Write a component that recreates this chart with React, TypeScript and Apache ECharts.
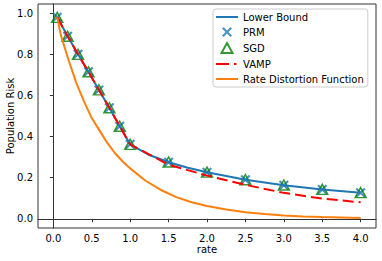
import React, { useEffect, useRef } from "react";
import * as echarts from "echarts";

const markerRates = [0.05, 0.186, 0.321, 0.457, 0.593, 0.729, 0.864, 1.0, 1.5, 2.0, 2.5, 3.0, 3.5, 4.0];
const prmValues = [0.98, 0.888, 0.8, 0.715, 0.627, 0.54, 0.45, 0.362, 0.275, 0.226, 0.19, 0.163, 0.142, 0.126];
const sgdValues = [0.98, 0.888, 0.8, 0.715, 0.627, 0.54, 0.45, 0.362, 0.276, 0.227, 0.19, 0.164, 0.143, 0.127];
const vampValues = [0.98, 0.888, 0.8, 0.715, 0.627, 0.54, 0.45, 0.362, 0.263, 0.21, 0.165, 0.126, 0.098, 0.08];

const lbRates = [0.05, 0.186, 0.321, 0.457, 0.593, 0.729, 0.864, 1.0, 1.25, 1.5, 1.75, 2.0, 2.5, 3.0, 3.5, 4.0];
const lbValues = [0.98, 0.888, 0.8, 0.715, 0.627, 0.54, 0.45, 0.362, 0.31, 0.275, 0.248, 0.226, 0.19, 0.163, 0.142, 0.126];

const rdRates = [0.05, 0.1, 0.2, 0.3, 0.4, 0.5, 0.6, 0.7, 0.8, 0.9, 1.0, 1.2, 1.4, 1.6, 1.8, 2.0, 2.25, 2.5, 2.75, 3.0, 3.25, 3.5, 3.75, 4.0];
const rdValues = [0.98, 0.89, 0.77, 0.66, 0.57, 0.49, 0.43, 0.37, 0.32, 0.28, 0.245, 0.185, 0.14, 0.105, 0.08, 0.062, 0.045, 0.032, 0.023, 0.016, 0.011, 0.008, 0.006, 0.004];

const xTicks = [0, 0.5, 1.0, 1.5, 2.0, 2.5, 3.0, 3.5, 4.0];
const yTicks = [0, 0.2, 0.4, 0.6, 0.8, 1.0];

const FONT = "DejaVu Sans";
const FS = 10;
const xPath = "path://M0,1.5 L1.5,0 L5,3.5 L8.5,0 L10,1.5 L6.5,5 L10,8.5 L8.5,10 L5,6.5 L1.5,10 L0,8.5 L3.5,5 Z";
const lineIcon = "path://M0,0 L22,0 L22,2 L0,2 Z";
const dashIcon = "path://M0,0 L13,0 L13,2 L0,2 Z M18,0 L20.5,0 L20.5,2 L18,2 Z M22,0 L22,2 L22,2 Z";
const triIcon = "path://M5.5,0 L11,10 L0,10 Z";

const zip = (a: number[], b: number[]) => a.map((v, i) => [v, b[i]]);

export default function App() {
  const ref = useRef<HTMLDivElement>(null);
  useEffect(() => {
    if (!ref.current) return;
    const chart = echarts.init(ref.current, null, { renderer: "svg" });
    chart.setOption({
      animation: false,
      textStyle: { fontFamily: FONT },
      grid: {
        left: 38,
        right: 6,
        top: 4,
        bottom: 33,
        containLabel: false,
        outerBoundsMode: "none",
        show: true,
        borderColor: "#333",
        borderWidth: 1,
      },
      legend: {
        orient: "vertical",
        left: 213,
        top: 9,
        padding: [3, 4, 3, 3],
        itemWidth: 22,
        itemHeight: 10,
        itemGap: 5,
        symbolKeepAspect: true,
        backgroundColor: "#fff",
        borderColor: "#ccc",
        borderWidth: 1,
        borderRadius: 3,
        textStyle: { fontFamily: FONT, fontSize: FS, color: "#000" },
        data: [
          { name: "Lower Bound", icon: lineIcon },
          { name: "PRM", icon: xPath },
          { name: "SGD", icon: triIcon },
          { name: "VAMP", icon: dashIcon },
          { name: "Rate Distortion Function", icon: lineIcon },
        ],
      },
      xAxis: {
        type: "value",
        min: -0.2,
        max: 4.2,
        name: "rate",
        nameLocation: "middle",
        nameGap: 16,
        nameMoveOverlap: false,
        nameTextStyle: { fontFamily: FONT, fontSize: FS, color: "#000" },
        axisLine: { show: true, lineStyle: { color: "#333" } },
        axisTick: { show: true, length: 3.5, lineStyle: { color: "#333" }, customValues: xTicks },
        axisLabel: {
          fontFamily: FONT,
          fontSize: FS,
          color: "#000",
          margin: 5,
          customValues: xTicks,
          formatter: (v: number) => v.toFixed(1),
        },
        splitLine: { show: false },
      },
      yAxis: {
        type: "value",
        min: -0.045,
        max: 1.045,
        name: "Population Risk",
        nameLocation: "middle",
        nameGap: 23,
        nameMoveOverlap: false,
        nameTextStyle: { fontFamily: FONT, fontSize: FS, color: "#000" },
        axisLine: { show: true, lineStyle: { color: "#333" } },
        axisTick: { show: true, length: 3.5, lineStyle: { color: "#333" }, customValues: yTicks },
        axisLabel: {
          fontFamily: FONT,
          fontSize: FS,
          color: "#000",
          margin: 5,
          customValues: yTicks,
          formatter: (v: number) => v.toFixed(1),
        },
        splitLine: { show: false },
      },
      series: [
        {
          name: "Lower Bound",
          type: "line",
          data: zip(lbRates, lbValues),
          symbol: "none",
          lineStyle: { color: "#1f77b4", width: 2 },
          itemStyle: { color: "#1f77b4" },
        },
        {
          name: "PRM",
          type: "scatter",
          data: zip(markerRates, prmValues),
          symbol: xPath,
          symbolSize: 10,
          itemStyle: { color: "#1f77b4" },
        },
        {
          name: "SGD",
          type: "scatter",
          data: zip(markerRates, sgdValues),
          symbol: "triangle",
          symbolSize: [11, 10],
          itemStyle: { color: "rgba(0,0,0,0)", borderColor: "#008000", borderWidth: 1.5 },
        },
        {
          name: "VAMP",
          type: "line",
          data: zip(markerRates, vampValues),
          symbol: "none",
          lineStyle: { color: "#ff0000", width: 2, type: [11, 5] },
          itemStyle: { color: "#ff0000" },
        },
        {
          name: "Rate Distortion Function",
          type: "line",
          data: zip(rdRates, rdValues),
          symbol: "none",
          lineStyle: { color: "#ff7f0e", width: 2 },
          itemStyle: { color: "#ff7f0e" },
        },
      ],
    });
    return () => chart.dispose();
  }, []);
  return <div ref={ref} style={{ width: 382, height: 261, position: "absolute", left: 0, top: 0 }} />;
}
